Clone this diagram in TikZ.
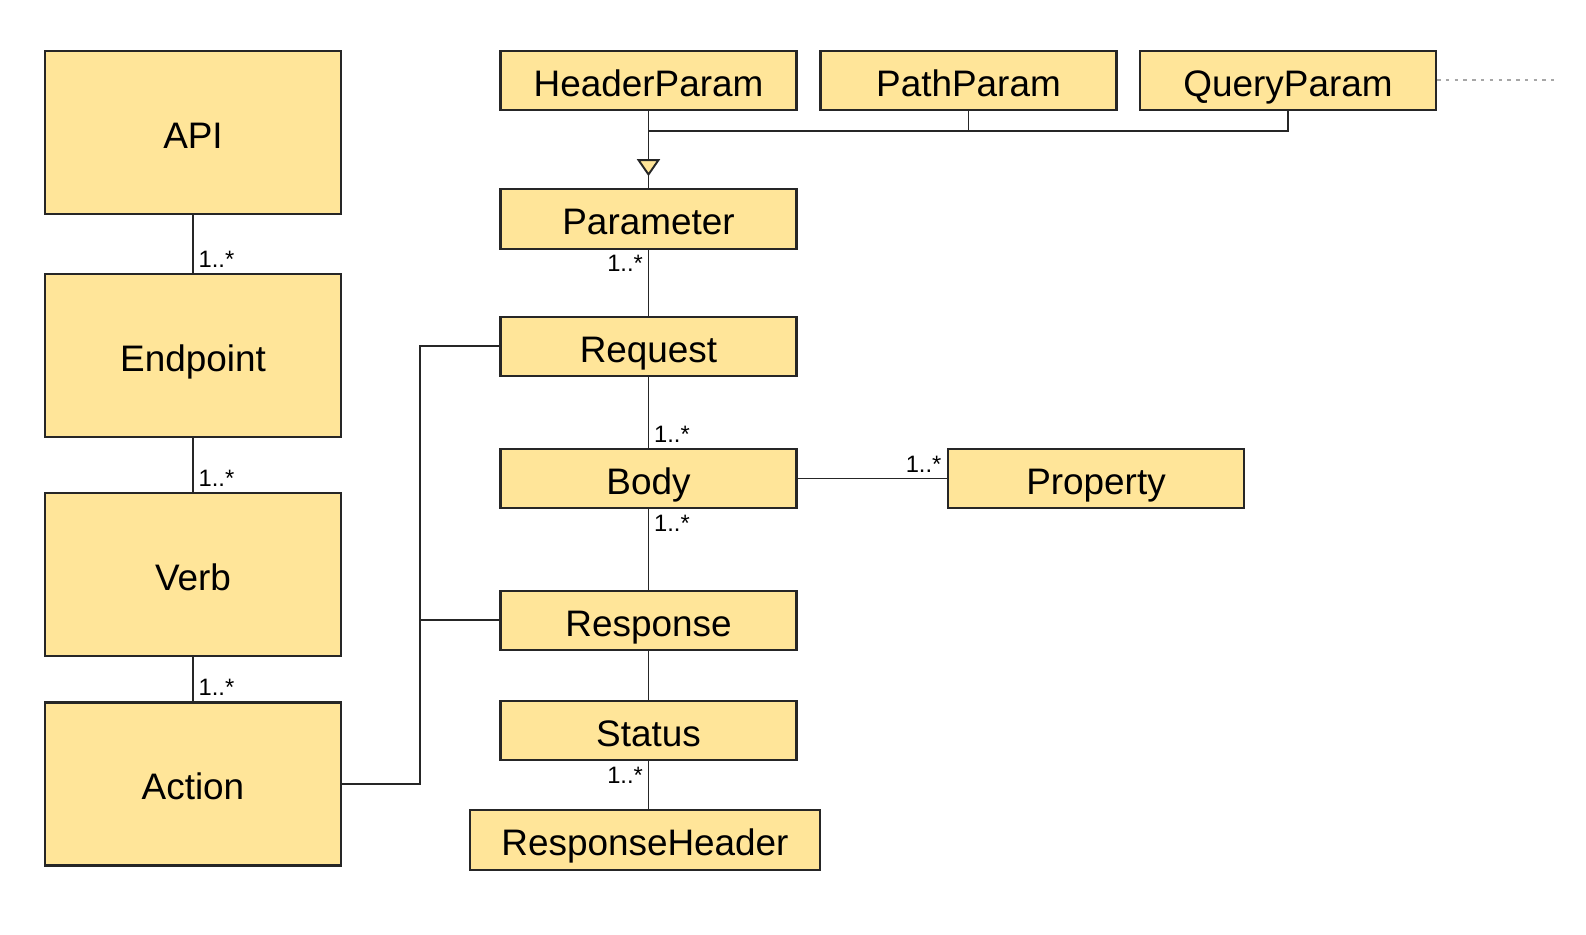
\documentclass[tikz,border=0pt]{standalone}
\usepackage{fontspec}
\setmainfont{Liberation Sans}
\usepackage{tikz}
\usetikzlibrary{arrows.meta, positioning}
\definecolor{boxyellow}{HTML}{FFE599}
\definecolor{boxedge}{HTML}{262626}
\tikzstyle{link} = [draw=boxedge, line width=1.1pt]

\begin{document}
\begin{tikzpicture}[x=0.02cm, y=-0.02cm,
  cls/.style={rectangle, draw=boxedge, fill=boxyellow, line width=1.2pt, font=\fontsize{21}{25}\selectfont, text height=17.9pt, text depth=0pt, minimum width=5.92cm, minimum height=1.19cm, inner sep=0pt},
  bigcls/.style={cls, minimum height=3.26cm},
  mult/.style={font=\fontsize{13.5}{16}\selectfont, inner sep=3pt}]

    \useasboundingbox (0,0) rectangle (1586,934);

    % left column
    \node[bigcls] (api) at (193,132.5) {API};
    \node[bigcls] (endpoint) at (193,355.5) {Endpoint};
    \node[bigcls] (verb) at (193,574.5) {Verb};
    \node[bigcls] (action) at (193,784) {Action};

    % parameter kinds
    \node[cls] (headerparam) at (648.5,80.3) {HeaderParam};
    \node[cls] (pathparam) at (968.5,80.3) {PathParam};
    \node[cls] (queryparam) at (1288,80.3) {QueryParam};

    % message column
    \node[cls] (parameter) at (648.5,219) {Parameter};
    \node[cls] (request) at (648.5,346.3) {Request};
    \node[cls] (body) at (648.5,478.5) {Body};
    \node[cls] (property) at (1096,478.5) {Property};
    \node[cls] (response) at (648.5,620.3) {Response};
    \node[cls] (status) at (648.5,730.5) {Status};
    \node[cls, minimum width=7cm] (responseheader) at (645,840) {ResponseHeader};

    \draw[link] (api) -- (endpoint);
    \draw[link] (endpoint) -- (verb);
    \draw[link] (verb) -- (action);
    \draw[link] (parameter) -- (request);
    \draw[link] (request) -- (body);
    \draw[link] (body) -- (response);
    \draw[link] (response) -- (status);
    \draw[link] (status.south) -- (status.south |- responseheader.north);
    \draw[link] (body) -- (property);
    \draw[link] (request.west) -- ++(-1.59cm,0) |- (action.east);
    \draw[link] (response.west) -- ++(-1.59cm,0);

    % generalisation
    \coordinate (genbus) at ([yshift=-0.39cm]headerparam.south);
    \coordinate (gentip) at ([yshift=0.24cm]parameter.north);
    \draw[link] (headerparam.south) -- (parameter.north);
    \draw[link] (pathparam.south) |- (genbus);
    \draw[link] (queryparam.south) |- (genbus);
    \draw[link, -{Triangle[length=0.34cm, width=0.46cm, fill=boxyellow]}] (genbus) -- (gentip);

    \coordinate (more) at ([xshift=2.34cm]queryparam.east);
    \draw[gray!70, line width=1pt, dash pattern=on 2pt off 3pt] (queryparam.east) -- (more);

    % multiplicities
    \node[mult, anchor=south west] (m1) at (endpoint.north) {1..*};
    \node[mult, anchor=south west] (m2) at (verb.north) {1..*};
    \node[mult, anchor=south west] (m3) at (action.north) {1..*};
    \node[mult, anchor=north east] (m4) at (parameter.south) {1..*};
    \node[mult, anchor=south west] (m5) at (body.north) {1..*};
    \node[mult, anchor=north west] (m6) at (body.south) {1..*};
    \node[mult, anchor=south east] (m7) at (property.west) {1..*};
    \node[mult, anchor=north east] (m8) at (status.south) {1..*};

\end{tikzpicture}
\end{document}
